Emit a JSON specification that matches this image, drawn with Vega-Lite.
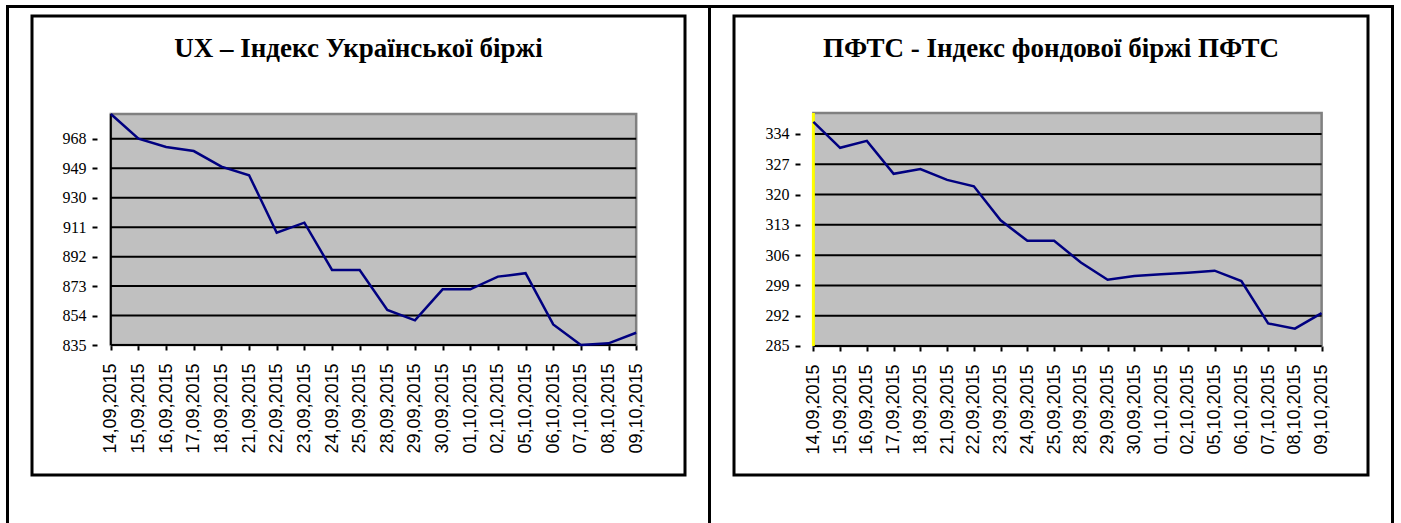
{
  "$schema": "https://vega.github.io/schema/vega-lite/v6.json",
  "background": "white",
  "padding": {"left": 6, "top": 5, "right": 0, "bottom": 0},
  "config": {
    "axis": {"title": null, "grid": false, "domain": false, "tickColor": "black", "tickWidth": 2, "tickSize": 5, "labelColor": "black"},
    "view": {"stroke": null}
  },
  "datasets": {
    "ux": [
      {"d": "14,09,2015", "v": 984.0},
      {"d": "15,09,2015", "v": 968.1},
      {"d": "16,09,2015", "v": 962.7},
      {"d": "17,09,2015", "v": 960.1},
      {"d": "18,09,2015", "v": 950.0},
      {"d": "21,09,2015", "v": 944.5},
      {"d": "22,09,2015", "v": 907.4},
      {"d": "23,09,2015", "v": 913.9},
      {"d": "24,09,2015", "v": 883.4},
      {"d": "25,09,2015", "v": 883.4},
      {"d": "28,09,2015", "v": 857.6},
      {"d": "29,09,2015", "v": 850.9},
      {"d": "30,09,2015", "v": 870.9},
      {"d": "01,10,2015", "v": 870.9},
      {"d": "02,10,2015", "v": 879.1},
      {"d": "05,10,2015", "v": 881.3},
      {"d": "06,10,2015", "v": 848.3},
      {"d": "07,10,2015", "v": 835.0},
      {"d": "08,10,2015", "v": 836.1},
      {"d": "09,10,2015", "v": 842.9}
    ],
    "pfts": [
      {"d": "14,09,2015", "v": 336.8},
      {"d": "15,09,2015", "v": 330.8},
      {"d": "16,09,2015", "v": 332.4},
      {"d": "17,09,2015", "v": 324.8},
      {"d": "18,09,2015", "v": 325.9},
      {"d": "21,09,2015", "v": 323.4},
      {"d": "22,09,2015", "v": 321.9},
      {"d": "23,09,2015", "v": 314.05},
      {"d": "24,09,2015", "v": 309.3},
      {"d": "25,09,2015", "v": 309.3},
      {"d": "28,09,2015", "v": 304.3},
      {"d": "29,09,2015", "v": 300.3},
      {"d": "30,09,2015", "v": 301.2},
      {"d": "01,10,2015", "v": 301.6},
      {"d": "02,10,2015", "v": 301.95},
      {"d": "05,10,2015", "v": 302.4},
      {"d": "06,10,2015", "v": 300.0},
      {"d": "07,10,2015", "v": 290.2},
      {"d": "08,10,2015", "v": 289.0},
      {"d": "09,10,2015", "v": 292.6}
    ],
    "uxTicks": [{"v": 835}, {"v": 854}, {"v": 873}, {"v": 892}, {"v": 911}, {"v": 930}, {"v": 949}, {"v": 968}],
    "pftsTicks": [{"v": 285}, {"v": 292}, {"v": 299}, {"v": 306}, {"v": 313}, {"v": 320}, {"v": 327}, {"v": 334}]
  },
  "spacing": 0,
  "vconcat": [
    {"width": 1388, "height": 3, "data": {"values": []}, "mark": "rect", "encoding": {}, "view": {"fill": "black", "stroke": null}},
    {
      "spacing": 21,
      "hconcat": [
        {"width": 3, "height": 520, "data": {"values": []}, "mark": "rect", "encoding": {}, "view": {"fill": "black", "stroke": null}},
        {
          "spacing": 4,
          "vconcat": [
            {"width": 1, "height": 2, "data": {"values": []}, "mark": "rect", "encoding": {}},
            {
              "width": 653, "height": 459,
              "view": {"stroke": "black", "strokeWidth": 3, "fill": "white"},
              "title": {"text": "UX – Індекс Української біржі", "anchor": "middle", "frame": "group", "baseline": "alphabetic", "offset": -68, "font": "Liberation Serif", "fontSize": 27, "fontWeight": "bold", "color": "black"},
              "data": {"name": "ux"},
              "layer": [
                {
                  "mark": {"type": "area", "fill": "#c0c0c0", "stroke": "#808080", "strokeWidth": 2.5},
                  "encoding": {
                    "x": {"field": "d", "type": "ordinal", "sort": null,
                      "scale": {"type": "point", "domain": ["14,09,2015","15,09,2015","16,09,2015","17,09,2015","18,09,2015","21,09,2015","22,09,2015","23,09,2015","24,09,2015","25,09,2015","28,09,2015","29,09,2015","30,09,2015","01,10,2015","02,10,2015","05,10,2015","06,10,2015","07,10,2015","08,10,2015","09,10,2015"], "range": [65, 618]},
                      "axis": {"title": null, "labelAngle": -90, "labelAlign": "right", "labelBaseline": "middle", "offset": -130, "labelFont": "Liberation Sans", "labelFontSize": 18, "labelPadding": 13, "labelOverlap": false}},
                    "y": {"datum": 984, "type": "quantitative",
                      "scale": {"domain": [751.15, 1047.21], "nice": false, "zero": false},
                      "axis": {"title": null, "values": [835, 854, 873, 892, 911, 930, 949, 968], "offset": -65, "labelFont": "Liberation Sans Narrow", "labelFontSize": 16, "labelPadding": 6, "zindex": 2}},
                    "y2": {"datum": 835}
                  }
                },
                {
                  "data": {"name": "uxTicks"},
                  "mark": {"type": "rule", "color": "black", "strokeWidth": 2},
                  "encoding": {
                    "y": {"field": "v", "type": "quantitative"},
                    "x": {"datum": "14,09,2015", "type": "ordinal"},
                    "x2": {"datum": "09,10,2015"}
                  }
                },
                {
                  "data": {"values": [{}]},
                  "mark": {"type": "rule", "color": "black", "strokeWidth": 2},
                  "encoding": {
                    "x": {"datum": "14,09,2015", "type": "ordinal"},
                    "y": {"datum": 835, "type": "quantitative"},
                    "y2": {"datum": 984}
                  }
                },
                {
                  "mark": {"type": "line", "color": "#000080", "strokeWidth": 2.5},
                  "encoding": {
                    "x": {"field": "d", "type": "ordinal", "sort": null},
                    "y": {"field": "v", "type": "quantitative"}
                  }
                }
              ]
            }
          ]
        },
        {"width": 3, "height": 520, "data": {"values": []}, "mark": "rect", "encoding": {}, "view": {"fill": "black", "stroke": null}},
        {
          "spacing": 4,
          "vconcat": [
            {"width": 1, "height": 2, "data": {"values": []}, "mark": "rect", "encoding": {}},
            {
              "width": 634, "height": 459,
              "view": {"stroke": "black", "strokeWidth": 3, "fill": "white"},
              "title": {"text": "ПФТС - Індекс фондової біржі ПФТС", "anchor": "middle", "frame": "group", "baseline": "alphabetic", "offset": -68, "font": "Liberation Serif", "fontSize": 27, "fontWeight": "bold", "color": "black"},
              "data": {"name": "pfts"},
              "layer": [
                {
                  "mark": {"type": "area", "fill": "#c0c0c0", "stroke": "#808080", "strokeWidth": 2.5},
                  "encoding": {
                    "x": {"field": "d", "type": "ordinal", "sort": null,
                      "scale": {"type": "point", "domain": ["14,09,2015","15,09,2015","16,09,2015","17,09,2015","18,09,2015","21,09,2015","22,09,2015","23,09,2015","24,09,2015","25,09,2015","28,09,2015","29,09,2015","30,09,2015","01,10,2015","02,10,2015","05,10,2015","06,10,2015","07,10,2015","08,10,2015","09,10,2015"], "range": [66, 601]},
                      "axis": {"title": null, "labelAngle": -90, "labelAlign": "right", "labelBaseline": "middle", "offset": -129, "labelFont": "Liberation Sans", "labelFontSize": 18, "labelPadding": 13, "labelOverlap": false}},
                    "y": {"datum": 338.85, "type": "quantitative",
                      "scale": {"domain": [255.18, 361.27], "nice": false, "zero": false},
                      "axis": {"title": null, "values": [285, 292, 299, 306, 313, 320, 327, 334], "offset": -66, "labelFont": "Liberation Sans Narrow", "labelFontSize": 16, "labelPadding": 6, "zindex": 2}},
                    "y2": {"datum": 285}
                  }
                },
                {
                  "data": {"name": "pftsTicks"},
                  "mark": {"type": "rule", "color": "black", "strokeWidth": 2},
                  "encoding": {
                    "y": {"field": "v", "type": "quantitative"},
                    "x": {"datum": "14,09,2015", "type": "ordinal"},
                    "x2": {"datum": "09,10,2015"}
                  }
                },
                {
                  "data": {"values": [{}]},
                  "mark": {"type": "rule", "color": "#ffff00", "strokeWidth": 3},
                  "encoding": {
                    "x": {"datum": "14,09,2015", "type": "ordinal"},
                    "y": {"datum": 285, "type": "quantitative"},
                    "y2": {"datum": 338.85}
                  }
                },
                {
                  "mark": {"type": "line", "color": "#000080", "strokeWidth": 2.5},
                  "encoding": {
                    "x": {"field": "d", "type": "ordinal", "sort": null},
                    "y": {"field": "v", "type": "quantitative"}
                  }
                }
              ]
            }
          ]
        },
        {"width": 3, "height": 520, "data": {"values": []}, "mark": "rect", "encoding": {}, "view": {"fill": "black", "stroke": null}}
      ]
    }
  ]
}
